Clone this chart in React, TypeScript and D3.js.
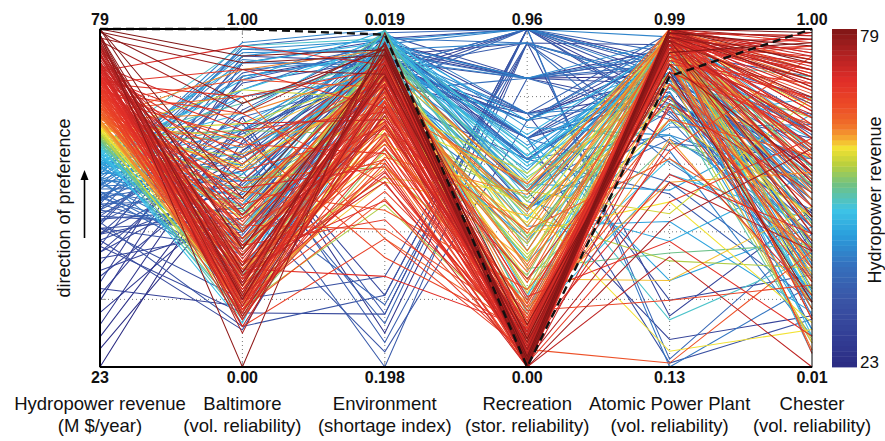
import React from "react";
import * as d3 from "d3";

// Axis labels (top = preferred end, bottom = worst end)
const AXIS_TOP = ["79", "1.00", "0.019", "0.96", "0.99", "1.00"];
const AXIS_BOTTOM = ["23", "0.00", "0.198", "0.00", "0.13", "0.01"];
const AXIS_TITLES = ["Hydropower revenue", "Baltimore", "Environment", "Recreation", "Atomic Power Plant", "Chester"];
const AXIS_SUBTITLES = ["(M $/year)", "(vol. reliability)", "(shortage index)", "(stor. reliability)", "(vol. reliability)", "(vol. reliability)"];
const COLORBAR_TICKS = ["23", "79"];

// Each row: [hydropower, baltimore, environment, recreation, atomic, chester]
const topRevenueRuns = [
  [79, 0.92, 0.030, 0.02, 0.98, 0.95],
  [78.5, 0.90, 0.033, 0.00, 0.99, 0.90],
  [78, 0.00, 0.021, 0.03, 0.97, 0.85],
  [77.5, 0.88, 0.043, 0.05, 0.96, 0.80],
  [77, 0.75, 0.028, 0.01, 0.99, 0.97],
  [76.5, 0.30, 0.031, 0.02, 0.98, 0.88],
  [76, 0.25, 0.034, 0.00, 0.97, 0.78],
  [75.5, 0.22, 0.029, 0.04, 0.99, 0.92],
  [75, 0.18, 0.036, 0.06, 0.95, 0.70],
  [74.5, 0.28, 0.045, 0.03, 0.94, 0.60],
  [79, 0.35, 0.032, 0.08, 0.93, 0.96],
  [78, 0.20, 0.038, 0.01, 0.96, 0.45],
  [77, 0.15, 0.050, 0.02, 0.99, 0.83],
  [76, 0.40, 0.042, 0.00, 0.98, 0.98],
  [75, 0.12, 0.060, 0.05, 0.97, 0.55],
  [74, 0.33, 0.055, 0.09, 0.92, 0.75],
  [78.5, 0.78, 0.030, 0.12, 0.88, 0.20],
  [77, 0.24, 0.029, 0.00, 0.50, 0.65],
  [76, 0.20, 0.040, 0.02, 0.60, 0.35],
  [75, 0.27, 0.065, 0.00, 0.41, 0.01],
  [74.5, 0.45, 0.048, 0.04, 0.96, 0.68],
  [79, 0.50, 0.027, 0.03, 0.99, 0.99],
  [78, 0.28, 0.044, 0.07, 0.90, 0.58],
  [76.5, 0.10, 0.033, 0.00, 0.98, 0.86],
  [75.5, 0.36, 0.070, 0.10, 0.95, 0.40],
  [77.5, 0.21, 0.026, 0.01, 0.97, 0.91],
];

const highRevenueRuns = [
  [73.5, 0.16, 0.040, 0.02, 0.99, 0.93],
  [73, 0.20, 0.050, 0.05, 0.97, 0.82],
  [72.5, 0.25, 0.045, 0.00, 0.98, 0.76],
  [72, 0.30, 0.060, 0.08, 0.95, 0.88],
  [71.5, 0.35, 0.038, 0.03, 0.99, 0.62],
  [71, 0.18, 0.070, 0.12, 0.93, 0.95],
  [70.5, 0.40, 0.055, 0.01, 0.96, 0.55],
  [70, 0.22, 0.065, 0.06, 0.98, 0.70],
  [69.5, 0.28, 0.080, 0.15, 0.90, 0.84],
  [69, 0.45, 0.048, 0.04, 0.97, 0.48],
  [68.5, 0.17, 0.090, 0.10, 0.94, 0.79],
  [68, 0.33, 0.058, 0.02, 0.99, 0.91],
  [67.5, 0.50, 0.042, 0.18, 0.92, 0.66],
  [67, 0.24, 0.075, 0.07, 0.85, 0.38],
  [66.5, 0.38, 0.068, 0.00, 0.97, 0.87],
  [66, 0.19, 0.052, 0.13, 0.88, 0.72],
  [73, 0.55, 0.035, 0.09, 0.96, 0.97],
  [72, 0.62, 0.046, 0.03, 0.98, 0.58],
  [71, 0.70, 0.063, 0.05, 0.91, 0.80],
  [70, 0.80, 0.040, 0.11, 0.95, 0.45],
  [69, 0.66, 0.085, 0.02, 0.99, 0.93],
  [68, 0.58, 0.072, 0.14, 0.87, 0.30],
  [67, 0.85, 0.050, 0.06, 0.93, 0.74],
  [73.5, 0.27, 0.100, 0.00, 0.80, 0.52],
  [72.5, 0.21, 0.095, 0.04, 0.70, 0.22],
  [71.5, 0.31, 0.110, 0.08, 0.62, 0.40],
  [70.5, 0.26, 0.044, 0.20, 0.45, 0.10],
  [69.5, 0.36, 0.120, 0.03, 0.99, 0.60],
  [68.5, 0.43, 0.037, 0.01, 0.55, 0.68],
  [67.5, 0.29, 0.062, 0.16, 0.30, 0.25],
  [66.5, 0.23, 0.078, 0.05, 0.14, 0.35],
  [72, 0.19, 0.033, 0.01, 0.92, 0.99],
  [70, 0.48, 0.088, 0.07, 0.97, 0.15],
  [68, 0.20, 0.105, 0.09, 0.98, 0.05],
  [66, 0.52, 0.115, 0.22, 0.76, 0.63],
  [71, 0.14, 0.058, 0.02, 0.96, 0.85],
  [69, 0.15, 0.074, 0.00, 0.99, 0.77],
  [67, 0.42, 0.125, 0.12, 0.68, 0.92],
  [73, 0.72, 0.067, 0.25, 0.82, 0.35],
  [67.5, 0.68, 0.140, 0.10, 0.90, 0.18],
  [73, 0.32, 0.052, 0.02, 0.99, 0.86],
  [72, 0.44, 0.068, 0.06, 0.97, 0.64],
  [71, 0.24, 0.043, 0.00, 0.95, 0.90],
  [70, 0.17, 0.082, 0.04, 0.98, 0.58],
  [69, 0.37, 0.057, 0.09, 0.99, 0.96],
  [68, 0.27, 0.094, 0.01, 0.93, 0.42],
  [67, 0.18, 0.046, 0.11, 0.96, 0.81],
  [66, 0.30, 0.088, 0.03, 0.99, 0.53],
  [70.5, 0.60, 0.034, 0.19, 0.88, 0.70],
  [68.5, 0.75, 0.101, 0.07, 0.79, 0.26],
  [73.5, 0.38, 0.041, 0.04, 0.98, 0.89],
  [73, 0.14, 0.063, 0.01, 0.96, 0.94],
  [72.5, 0.47, 0.036, 0.10, 0.99, 0.72],
  [72, 0.23, 0.077, 0.02, 0.94, 0.97],
  [71.5, 0.16, 0.049, 0.06, 0.99, 0.79],
  [71, 0.53, 0.092, 0.00, 0.97, 0.87],
  [70.5, 0.20, 0.039, 0.13, 0.95, 0.92],
  [70, 0.34, 0.071, 0.02, 0.99, 0.83],
  [69.5, 0.18, 0.053, 0.08, 0.96, 0.74],
  [69, 0.26, 0.097, 0.05, 0.98, 0.98],
  [68.5, 0.31, 0.044, 0.00, 0.93, 0.66],
  [68, 0.41, 0.083, 0.12, 0.97, 0.88],
  [67.5, 0.21, 0.057, 0.03, 0.99, 0.57],
  [67, 0.36, 0.069, 0.17, 0.91, 0.95],
  [66.5, 0.17, 0.109, 0.02, 0.98, 0.76],
  [66, 0.45, 0.051, 0.08, 0.95, 0.90],
  [72, 0.95, 0.038, 0.05, 0.97, 0.84],
  [70, 0.88, 0.061, 0.01, 0.99, 0.65],
  [68, 0.12, 0.130, 0.04, 0.85, 0.48],
  [71, 0.29, 0.150, 0.11, 0.94, 0.71],
];

const warmRevenueRuns = [
  [65.5, 0.17, 0.048, 0.45, 0.99, 0.72],
  [65, 0.25, 0.060, 0.52, 0.97, 0.55],
  [64.5, 0.35, 0.055, 0.38, 0.98, 0.85],
  [64, 0.20, 0.070, 0.05, 0.96, 0.63],
  [63.5, 0.45, 0.043, 0.40, 0.94, 0.42],
  [63, 0.30, 0.085, 0.30, 0.99, 0.28],
  [62.5, 0.60, 0.050, 0.12, 0.97, 0.77],
  [62, 0.16, 0.065, 0.35, 0.92, 0.50],
  [61.5, 0.40, 0.038, 0.22, 0.98, 0.36],
  [61, 0.70, 0.075, 0.48, 0.95, 0.60],
  [65, 0.55, 0.090, 0.00, 0.99, 0.88],
  [64, 0.75, 0.040, 0.28, 0.90, 0.32],
  [63, 0.22, 0.100, 0.43, 0.80, 0.45],
  [62, 0.50, 0.058, 0.55, 0.97, 0.70],
  [61.5, 0.18, 0.112, 0.08, 0.99, 0.24],
  [64.5, 0.65, 0.046, 0.33, 0.96, 0.15],
  [63.5, 0.28, 0.068, 0.17, 0.60, 0.58],
  [62.5, 0.38, 0.080, 0.46, 0.17, 0.12],
  [61, 0.33, 0.052, 0.37, 0.88, 0.66],
  [65.5, 0.80, 0.130, 0.10, 0.93, 0.50],
  [65, 0.42, 0.036, 0.50, 0.99, 0.82],
  [64.5, 0.26, 0.062, 0.27, 0.95, 0.40],
  [64, 0.58, 0.048, 0.44, 0.97, 0.52],
  [63.5, 0.19, 0.092, 0.18, 0.93, 0.30],
  [63, 0.68, 0.041, 0.52, 0.85, 0.62],
  [62.5, 0.24, 0.072, 0.41, 0.98, 0.22],
  [62, 0.82, 0.056, 0.32, 0.76, 0.45],
  [61.5, 0.47, 0.034, 0.47, 0.91, 0.18],
  [61, 0.15, 0.083, 0.26, 0.99, 0.54],
  [65.5, 0.36, 0.074, 0.39, 0.66, 0.36],
  [64, 0.88, 0.030, 0.14, 0.96, 0.26],
  [62, 0.29, 0.098, 0.50, 0.52, 0.80],
  [63, 0.53, 0.060, 0.06, 0.87, 0.08],
  [61.5, 0.62, 0.045, 0.43, 0.40, 0.30],
  [65.5, 0.23, 0.052, 0.24, 0.98, 0.91],
  [65, 0.31, 0.078, 0.13, 0.99, 0.68],
  [64.5, 0.49, 0.039, 0.08, 0.97, 0.79],
  [64, 0.17, 0.087, 0.49, 0.94, 0.56],
  [63.5, 0.63, 0.054, 0.36, 0.99, 0.86],
  [63, 0.40, 0.033, 0.21, 0.92, 0.38],
  [62.5, 0.19, 0.066, 0.53, 0.96, 0.64],
  [62, 0.72, 0.044, 0.04, 0.98, 0.33],
  [61.5, 0.27, 0.058, 0.31, 0.88, 0.74],
  [61, 0.56, 0.092, 0.19, 0.97, 0.43],
  [64.5, 0.33, 0.050, 0.29, 0.94, 0.06],
  [63.5, 0.21, 0.076, 0.11, 0.71, 0.20],
  [62.5, 0.44, 0.040, 0.38, 0.55, 0.14],
  [61.5, 0.35, 0.063, 0.45, 0.82, 0.09],
  [65, 0.28, 0.057, 0.16, 0.90, 0.27],
  [63, 0.59, 0.047, 0.25, 0.35, 0.48],
];

const midRevenueRuns = [
  [60.5, 0.20, 0.022, 0.15, 0.98, 0.48],
  [60, 0.45, 0.019, 0.10, 0.97, 0.30],
  [59.5, 0.60, 0.025, 0.55, 0.94, 0.65],
  [59, 0.13, 0.030, 0.20, 0.99, 0.20],
  [58.5, 0.75, 0.021, 0.48, 0.90, 0.57],
  [58, 0.35, 0.035, 0.58, 0.95, 0.40],
  [57.5, 0.85, 0.020, 0.50, 0.86, 0.72],
  [57, 0.55, 0.028, 0.62, 0.92, 0.34],
  [56.5, 0.92, 0.024, 0.45, 0.80, 0.62],
  [56, 0.40, 0.040, 0.56, 0.97, 0.27],
  [60, 0.14, 0.045, 0.07, 0.99, 0.18],
  [59, 0.27, 0.032, 0.42, 0.96, 0.10],
  [58, 0.65, 0.050, 0.30, 0.75, 0.80],
  [57, 0.30, 0.023, 0.65, 0.35, 0.42],
  [60.5, 0.52, 0.060, 0.25, 0.70, 0.55],
  [56.5, 0.70, 0.030, 0.52, 0.58, 0.75],
  [60.5, 0.33, 0.027, 0.40, 0.93, 0.38],
  [60, 0.78, 0.034, 0.54, 0.84, 0.52],
  [59.5, 0.22, 0.043, 0.30, 0.97, 0.15],
  [59, 0.48, 0.020, 0.60, 0.89, 0.68],
  [58.5, 0.16, 0.055, 0.12, 0.62, 0.44],
  [58, 0.90, 0.026, 0.66, 0.95, 0.23],
  [57.5, 0.42, 0.038, 0.47, 0.45, 0.58],
  [57, 0.72, 0.031, 0.58, 0.98, 0.48],
  [56.5, 0.26, 0.065, 0.36, 0.83, 0.12],
  [56, 0.63, 0.022, 0.68, 0.72, 0.40],
  [59.5, 0.95, 0.024, 0.62, 0.25, 0.33],
  [58.5, 0.37, 0.029, 0.16, 0.99, 0.70],
  [60.5, 0.68, 0.021, 0.33, 0.99, 0.59],
  [60, 0.24, 0.030, 0.51, 0.91, 0.86],
  [59.5, 0.41, 0.036, 0.09, 0.96, 0.36],
  [59, 0.82, 0.027, 0.57, 0.87, 0.22],
  [58, 0.19, 0.041, 0.44, 0.98, 0.64],
  [57, 0.50, 0.025, 0.70, 0.90, 0.53],
  [56, 0.86, 0.033, 0.60, 0.94, 0.31],
  [60, 0.36, 0.028, 0.37, 0.80, 0.08],
  [59, 0.57, 0.035, 0.21, 0.66, 0.29],
  [58, 0.28, 0.024, 0.53, 0.93, 0.05],
  [57, 0.80, 0.039, 0.40, 0.50, 0.17],
  [60.5, 0.46, 0.032, 0.28, 0.42, 0.37],
  [56.5, 0.53, 0.027, 0.63, 0.88, 0.21],
];

const lowRevenueRuns = [
  [55.5, 0.94, 0.025, 0.96, 0.90, 0.60],
  [55, 0.93, 0.030, 0.92, 0.85, 0.45],
  [54.5, 0.88, 0.035, 0.82, 0.93, 0.70],
  [54, 0.70, 0.022, 0.72, 0.80, 0.38],
  [53.5, 0.62, 0.040, 0.96, 0.13, 0.25],
  [53, 0.55, 0.028, 0.65, 0.88, 0.52],
  [52.5, 0.80, 0.045, 0.50, 0.95, 0.78],
  [52, 0.45, 0.032, 0.82, 0.76, 0.30],
  [51.5, 0.66, 0.026, 0.59, 0.91, 0.66],
  [51, 0.38, 0.050, 0.96, 0.15, 0.40],
  [50.5, 0.90, 0.038, 0.70, 0.82, 0.20],
  [50, 0.50, 0.165, 0.92, 0.86, 0.56],
  [49.5, 0.63, 0.175, 0.96, 0.78, 0.33],
  [49, 0.68, 0.185, 0.82, 0.92, 0.48],
  [48.5, 0.58, 0.198, 0.92, 0.70, 0.62],
  [48, 0.72, 0.170, 0.96, 0.89, 0.27],
  [47.5, 0.47, 0.190, 0.70, 0.97, 0.74],
  [47, 0.12, 0.160, 0.96, 0.84, 0.50],
  [46.5, 0.85, 0.030, 0.45, 0.93, 0.86],
  [46, 0.35, 0.042, 0.65, 0.14, 0.15],
  [45, 0.76, 0.024, 0.96, 0.87, 0.42],
  [44, 0.11, 0.055, 0.59, 0.90, 0.58],
  [43, 0.92, 0.036, 0.82, 0.79, 0.68],
  [42, 0.57, 0.029, 0.50, 0.96, 0.35],
  [41, 0.40, 0.048, 0.72, 0.83, 0.22],
  [40, 0.78, 0.033, 0.92, 0.26, 0.47],
  [38, 0.60, 0.027, 0.65, 0.91, 0.64],
  [36, 0.18, 0.040, 0.96, 0.81, 0.54],
  [34, 0.86, 0.031, 0.82, 0.94, 0.31],
  [32, 0.52, 0.023, 0.59, 0.88, 0.44],
  [30, 0.74, 0.180, 0.92, 0.85, 0.60],
  [28, 0.64, 0.037, 0.70, 0.92, 0.37],
  [23, 0.67, 0.026, 0.82, 0.87, 0.52],
  [55, 0.96, 0.019, 0.96, 0.97, 0.88],
  [54, 0.25, 0.058, 0.45, 0.74, 0.72],
  [52, 0.30, 0.062, 0.35, 0.95, 0.16],
  [50, 0.95, 0.021, 0.50, 0.92, 0.80],
  [48, 0.42, 0.046, 0.96, 0.90, 0.12],
  [46, 0.20, 0.150, 0.92, 0.95, 0.66],
  [44, 0.54, 0.039, 0.72, 0.30, 0.28],
  [55, 0.60, 0.033, 0.59, 0.72, 0.55],
  [54.5, 0.40, 0.027, 0.96, 0.86, 0.18],
  [54, 0.91, 0.041, 0.70, 0.96, 0.43],
  [53.5, 0.33, 0.036, 0.50, 0.78, 0.62],
  [53, 0.82, 0.024, 0.92, 0.65, 0.34],
  [52.5, 0.53, 0.052, 0.82, 0.90, 0.28],
  [51.5, 0.28, 0.029, 0.65, 0.84, 0.75],
  [51, 0.74, 0.045, 0.45, 0.71, 0.47],
  [50, 0.36, 0.034, 0.72, 0.98, 0.36],
  [49, 0.87, 0.028, 0.59, 0.57, 0.20],
  [47, 0.64, 0.022, 0.82, 0.89, 0.58],
  [45, 0.48, 0.038, 0.70, 0.94, 0.24],
  [43, 0.16, 0.170, 0.96, 0.77, 0.40],
  [39, 0.44, 0.030, 0.50, 0.20, 0.16],
  [35, 0.70, 0.043, 0.96, 0.91, 0.70],
  [26, 0.55, 0.032, 0.65, 0.82, 0.46],
  [55.5, 0.48, 0.027, 0.82, 0.96, 0.50],
  [53, 0.94, 0.032, 0.59, 0.88, 0.64],
  [51, 0.58, 0.021, 0.96, 0.93, 0.54],
  [49, 0.39, 0.040, 0.92, 0.80, 0.42],
  [47, 0.84, 0.035, 0.65, 0.95, 0.69],
  [45, 0.62, 0.029, 0.82, 0.85, 0.26],
  [42, 0.70, 0.160, 0.96, 0.90, 0.50],
  [37, 0.90, 0.025, 0.72, 0.87, 0.57],
  [54, 0.51, 0.031, 0.72, 0.68, 0.10],
  [50.5, 0.69, 0.036, 0.65, 0.60, 0.24],
  [46, 0.44, 0.027, 0.82, 0.92, 0.32],
];

// Highlighted compromise solution
const compromiseRun = [79, 1.0, 0.022, 0.0, 0.87, 1.0];

// Colour ramp (bottom -> top of the colour bar)
const RAMP_STOPS = [0, 0.095, 0.2, 0.3, 0.39, 0.464, 0.538, 0.598, 0.648, 0.68, 0.716, 0.775, 0.85, 0.92, 1];
const RAMP_COLORS = ["#2b2b82", "#333f96", "#3a55a6", "#3570bd", "#2a9edc", "#3ec4e6", "#6fc185", "#b8cf3e", "#f2e233", "#f5a531", "#f0702a", "#ec4a27", "#e02d28", "#b52222", "#7f1616"];

const FONT = "'Liberation Sans', Arial, Helvetica, sans-serif";

const LEFT = 100;
const RIGHT = 812;
const TOP = 29;
const BOTTOM = 367;

export default function App() {
  const nAxes = AXIS_TOP.length;
  const x = d3.scalePoint<number>().domain(d3.range(nAxes)).range([LEFT, RIGHT]);
  const yScales = d3.range(nAxes).map((i) =>
    d3.scaleLinear().domain([+AXIS_BOTTOM[i], +AXIS_TOP[i]]).range([BOTTOM, TOP])
  );
  const unitY = d3.scaleLinear().domain([0, 1]).range([BOTTOM, TOP]);

  const ramp = d3.scaleLinear<string>().domain(RAMP_STOPS).range(RAMP_COLORS).interpolate(d3.interpolateRgb);
  const rampPos = d3
    .scaleLinear()
    .domain([23, 45, 55.5, 59, 60.6, 62.5, 64.5, 68, 72, 76, 79])
    .range([0, 0.15, 0.35, 0.46, 0.54, 0.648, 0.72, 0.8, 0.86, 0.92, 1])
    .clamp(true);
  const colorOf = (h: number) => ramp(rampPos(h));

  const lineGen = d3.line<number>().x((_, i) => x(i)!).y((v, i) => yScales[i](v));

  const runs = [...lowRevenueRuns, ...midRevenueRuns, ...warmRevenueRuns, ...highRevenueRuns, ...topRevenueRuns].sort(
    (a, b) => a[0] - b[0]
  );

  const gridFractions = d3.range(1, 5).map((k) => k / 5);
  const innerAxes = d3.range(1, nAxes - 1);

  const cbX = 832;
  const cbW = 25;
  const bands = 64;
  const cbScale = d3.scaleLinear().domain([+COLORBAR_TICKS[0], +COLORBAR_TICKS[1]]).range([BOTTOM, TOP]);

  return (
    <svg
      width={885}
      height={441}
      style={{ position: "absolute", left: 0, top: 0, display: "block", background: "#fff" }}
      fontFamily={FONT}
    >
      {/* grid */}
      <g stroke="#555" strokeWidth={0.8} strokeDasharray="1 3" fill="none">
        {gridFractions.map((f) => (
          <line key={"h" + f} x1={LEFT} x2={RIGHT} y1={unitY(f)} y2={unitY(f)} />
        ))}
        {innerAxes.map((i) => (
          <line key={"v" + i} x1={x(i)} x2={x(i)} y1={TOP} y2={BOTTOM} />
        ))}
      </g>
      {/* ticks */}
      <g stroke="#999" strokeWidth={1}>
        {gridFractions.map((f) => (
          <g key={"t" + f}>
            <line x1={LEFT} x2={LEFT + 6} y1={unitY(f)} y2={unitY(f)} />
            <line x1={RIGHT - 6} x2={RIGHT} y1={unitY(f)} y2={unitY(f)} />
          </g>
        ))}
        {innerAxes.map((i) => (
          <g key={"xt" + i}>
            <line x1={x(i)} x2={x(i)} y1={BOTTOM - 6} y2={BOTTOM} />
            <line x1={x(i)} x2={x(i)} y1={TOP} y2={TOP + 6} />
          </g>
        ))}
      </g>

      {/* solutions */}
      <g fill="none" strokeWidth={1.05} strokeLinejoin="miter">
        {runs.map((r, k) => (
          <path key={k} d={lineGen(r) || ""} stroke={colorOf(r[0])} />
        ))}
      </g>
      <path d={lineGen(compromiseRun) || ""} fill="none" stroke="#111" strokeWidth={2.4} strokeDasharray="8 5" />

      {/* frame */}
      <rect x={LEFT} y={TOP} width={RIGHT - LEFT} height={BOTTOM - TOP} fill="none" stroke="#000" strokeWidth={1} />
      <line x1={LEFT} x2={RIGHT} y1={TOP} y2={TOP} stroke="#000" strokeWidth={2} />
      <line x1={LEFT} x2={RIGHT} y1={BOTTOM} y2={BOTTOM} stroke="#000" strokeWidth={2} />
      <line x1={LEFT} x2={LEFT} y1={TOP} y2={BOTTOM} stroke="#000" strokeWidth={2} />

      {/* axis value labels */}
      {AXIS_TOP.map((t, i) => (
        <text key={"top" + i} x={x(i)} y={25} textAnchor="middle" fontWeight="bold" fontSize={16} fill="#111">
          {t}
        </text>
      ))}
      {AXIS_BOTTOM.map((t, i) => (
        <text key={"bot" + i} x={x(i)} y={383} textAnchor="middle" fontWeight="bold" fontSize={16} fill="#111">
          {t}
        </text>
      ))}
      {AXIS_TITLES.map((t, i) => (
        <g key={"ttl" + i}>
          <text x={x(i)} y={410} textAnchor="middle" fontSize={18.5} fill="#111">
            {t}
          </text>
          <text x={x(i)} y={432} textAnchor="middle" fontSize={18.5} fill="#111">
            {AXIS_SUBTITLES[i]}
          </text>
        </g>
      ))}

      {/* preference direction */}
      <text transform="translate(70,208) rotate(-90)" textAnchor="middle" fontSize={18} fill="#111">
        direction of preference
      </text>
      <line x1={84.5} x2={84.5} y1={238} y2={178} stroke="#000" strokeWidth={1.6} />
      <path d="M84.5,170 L80.5,180 L88.5,180 Z" fill="#000" />

      {/* colour bar */}
      <g>
        {d3.range(bands).map((k) => {
          const y0 = BOTTOM - ((k + 1) * (BOTTOM - TOP)) / bands;
          return (
            <rect
              key={"cb" + k}
              x={cbX}
              y={y0}
              width={cbW}
              height={(BOTTOM - TOP) / bands + 0.4}
              fill={ramp((k + 0.5) / bands)}
            />
          );
        })}
      </g>
      {COLORBAR_TICKS.map((t) => (
        <text
          key={"cbt" + t}
          x={860}
          y={cbScale(+t) + (+t === +COLORBAR_TICKS[0] ? 1 : 13)}
          fontSize={17}
          fill="#111"
        >
          {t}
        </text>
      ))}
      <text transform="translate(881,200) rotate(-90)" textAnchor="middle" fontSize={18} fill="#111">
        Hydropower revenue
      </text>
    </svg>
  );
}
